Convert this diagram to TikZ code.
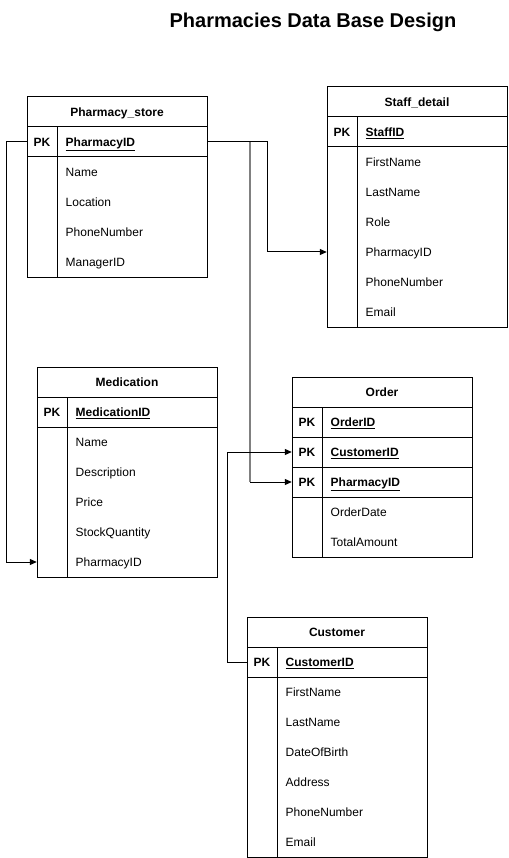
\documentclass[tikz,border=0pt]{standalone}
\usepackage{fontspec}
\setmainfont{Liberation Sans}
\usetikzlibrary{arrows.meta}
\tikzset{
  tbl/.style={draw=black, line width=1pt},
  hdr/.style={font=\fontsize{12}{14}\selectfont\bfseries, inner sep=0pt, anchor=base},
  pklab/.style={font=\fontsize{12}{14}\selectfont\bfseries, inner sep=0pt, anchor=base},
  fld/.style={font=\fontsize{12}{14}\selectfont, inner sep=0pt, anchor=base west},
  pkfld/.style={font=\fontsize{12}{14}\selectfont\bfseries, inner sep=0pt, anchor=base west},
  rowbox/.style={minimum width=180pt, minimum height=30pt, inner sep=0pt, draw=none},
  conn/.style={draw=black, line width=1pt, -{Triangle[length=7pt,width=6pt]}},
  grayline/.style={draw=black!50, line width=2pt},
  ttl/.style={font=\fontsize{20}{24}\selectfont\bfseries, inner sep=0pt, anchor=base}
}
\newcommand\ertable[8]{%
  \begin{scope}[shift={(#2,#3)}]
    \draw[tbl] (0,0) rectangle (180,30);
    \node[hdr] (#1) at (90,19.3) {#4};
    \foreach \k/\f [count=\i] in {#6} {
      \draw[tbl] (0,30*\i) rectangle (180,30*\i+30);
      \draw[tbl] (30,30*\i) -- (30,30*\i+30);
      \node[rowbox] (#1-\k) at (90,30*\i+15) {};
      \node[pklab] (#1-\k-pk) at (15,30*\i+19.3) {PK};
      \node[pkfld] (#1-\k-t) at (38.5,30*\i+19.3) {\underline{\f}};
    }
    \pgfmathsetmacro\ystart{30*(#5+1)}
    \draw[tbl] (0,\ystart) rectangle (180,\ystart+30*#7);
    \draw[tbl] (30,\ystart) -- (30,\ystart+30*#7);
    \foreach \k/\f [count=\i] in {#8} {
      \node[rowbox] (#1-\k) at (90,\ystart+30*\i-15) {};
      \node[fld] (#1-\k-t) at (38.5,\ystart+30*\i-10.7) {\f};
    }
  \end{scope}%
}
\begin{document}
\begin{tikzpicture}[x=1pt,y=-1pt]
\useasboundingbox (0,0) rectangle (508,858);
\fill[white] (0,0) rectangle (508,858);
\node[ttl] (title) at (313,27.2) {Pharmacies Data Base Design};

\ertable{ps}{27}{97}{Pharmacy\_store}{1}{pid/PharmacyID}{4}{name/Name,loc/Location,phone/PhoneNumber,mgr/ManagerID}
\ertable{st}{327}{87}{Staff\_detail}{1}{sid/StaffID}{6}{fn/FirstName,ln/LastName,role/Role,pid/PharmacyID,phone/PhoneNumber,email/Email}
\ertable{med}{37}{367}{Medication}{1}{mid/MedicationID}{5}{name/Name,desc/Description,price/Price,qty/StockQuantity,pid/PharmacyID}
\ertable{ord}{292}{377}{Order}{3}{oid/OrderID,cid/CustomerID,pid/PharmacyID}{2}{date/OrderDate,amt/TotalAmount}
\ertable{cu}{247}{617}{Customer}{1}{cid/CustomerID}{6}{fn/FirstName,ln/LastName,dob/DateOfBirth,addr/Address,phone/PhoneNumber,email/Email}

% Pharmacy_store -> Medication
\draw[conn] (ps-pid.west) -- ++(-20,0) |- (med-pid.west);
% Pharmacy_store -> Order (gray vertical)
\coordinate (gtop) at ([xshift=43pt]ps-pid.east);
\coordinate (gbot) at (gtop |- ord-pid.west);
\draw[grayline] (gtop) -- (gbot);
\draw[conn] (gbot) -- (ord-pid.west);
% Pharmacy_store -> Staff_detail
\draw[conn] (ps-pid.east) -- ++(60,0) |- (st-pid.west);
% Customer -> Order
\draw[conn] (cu-cid.west) -- ++(-19,0) |- (ord-cid.west);
\end{tikzpicture}
\end{document}
